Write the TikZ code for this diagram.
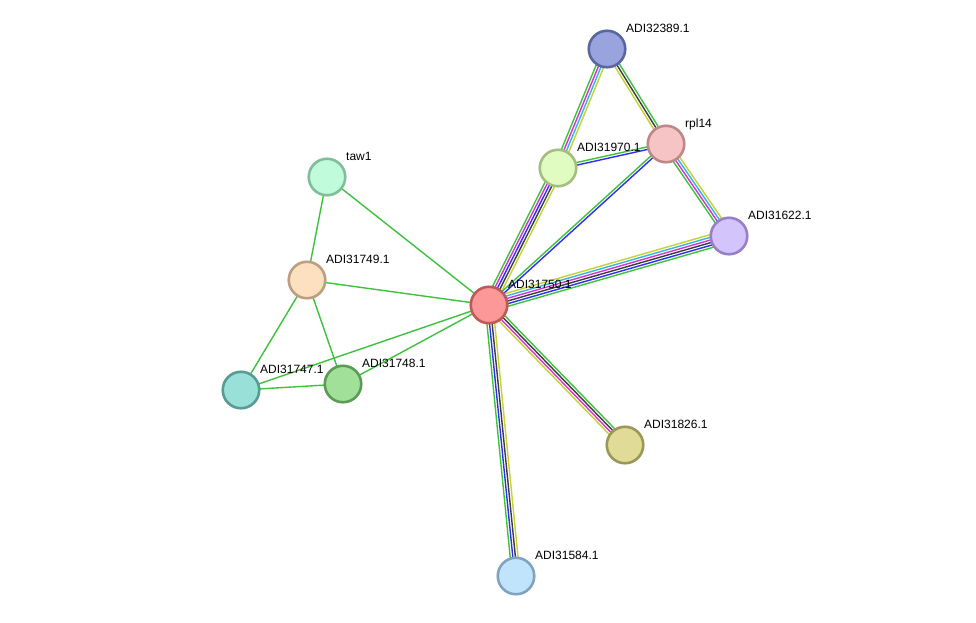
\documentclass[tikz,border=0pt]{standalone}
\usepackage{fontspec}
\setmainfont{Liberation Sans}
\usetikzlibrary{calc}
\definecolor{eg}{RGB}{61,194,61}
\definecolor{em}{RGB}{214,50,214}
\definecolor{eb}{RGB}{48,48,240}
\definecolor{ek}{RGB}{60,60,60}
\definecolor{ey}{RGB}{196,210,50}
\definecolor{ec}{RGB}{50,184,220}
\tikzset{
  edge/.style={line width=1.4pt},
  prot/.style={circle, minimum size=36.5pt, inner sep=0pt, line width=2.6pt},
  plabel/.style={anchor=base west, font=\fontsize{12}{14}\selectfont, inner sep=0pt, text=black}
}
\newcommand\medge[3]{%
  \foreach \c [count=\i] in {#3} {\xdef\nn{\i}}%
  \foreach \c [count=\i] in {#3} {%
    \pgfmathsetmacro\off{(\i-(\nn+1)/2)*2.6}%
    \draw[edge,\c] ($(#1)!\off pt!90:(#2)$) -- ($(#2)!\off pt!-90:(#1)$);
  }%
}
\begin{document}
\begin{tikzpicture}[x=1pt,y=-1pt]
\useasboundingbox[fill=white] (0,0) rectangle (976,622);
% coordinates of node centres
\coordinate (c32389) at (607,49);
\coordinate (crpl) at (666,144);
\coordinate (c31970) at (558,168);
\coordinate (c31622) at (729,236);
\coordinate (ctaw) at (327,177);
\coordinate (c31749) at (307,280);
\coordinate (c31750) at (489,305);
\coordinate (c31747) at (241,390);
\coordinate (c31748) at (343,384);
\coordinate (c31826) at (625,445);
\coordinate (c31584) at (516,576);
% edges
\medge{c31750}{c31970}{ey,ek,eb,em,eg}
\medge{c31970}{c32389}{ey,ec,em,eg}
\medge{c32389}{crpl}{ey,ek,eg}
\medge{c31970}{crpl}{eb,eg}
\medge{c31750}{crpl}{eb,eg}
\medge{crpl}{c31622}{eg,em,ec,ey}
\medge{c31750}{c31622}{eg,eb,ek,em,ec,ey}
\medge{c31750}{c31826}{ey,em,ek,eg}
\medge{c31750}{c31584}{eg,eb,ek,ey}
\medge{ctaw}{c31750}{eg}
\medge{ctaw}{c31749}{eg}
\medge{c31749}{c31750}{eg}
\medge{c31749}{c31747}{eg}
\medge{c31749}{c31748}{eg}
\medge{c31747}{c31748}{eg}
\medge{c31747}{c31750}{eg}
\medge{c31748}{c31750}{eg}
% nodes
\node[prot, fill={rgb,255:red,153;green,163;blue,222}, draw={rgb,255:red,90;green,102;blue,160}] (n32389) at (c32389) {};
\node[prot, fill={rgb,255:red,246;green,196;blue,196}, draw={rgb,255:red,190;green,136;blue,136}] (nrpl) at (crpl) {};
\node[prot, fill={rgb,255:red,224;green,252;blue,192}, draw={rgb,255:red,164;green,190;blue,128}] (n31970) at (c31970) {};
\node[prot, fill={rgb,255:red,212;green,196;blue,252}, draw={rgb,255:red,152;green,128;blue,200}] (n31622) at (c31622) {};
\node[prot, fill={rgb,255:red,192;green,252;blue,220}, draw={rgb,255:red,128;green,190;blue,152}] (ntaw) at (ctaw) {};
\node[prot, fill={rgb,255:red,253;green,224;blue,192}, draw={rgb,255:red,190;green,158;blue,128}] (n31749) at (c31749) {};
\node[prot, fill={rgb,255:red,252;green,152;blue,152}, draw={rgb,255:red,192;green,88;blue,88}] (n31750) at (c31750) {};
\node[prot, fill={rgb,255:red,152;green,224;blue,216}, draw={rgb,255:red,90;green,154;blue,148}] (n31747) at (c31747) {};
\node[prot, fill={rgb,255:red,160;green,224;blue,152}, draw={rgb,255:red,92;green,154;blue,88}] (n31748) at (c31748) {};
\node[prot, fill={rgb,255:red,224;green,220;blue,152}, draw={rgb,255:red,154;green,152;blue,88}] (n31826) at (c31826) {};
\node[prot, fill={rgb,255:red,192;green,228;blue,252}, draw={rgb,255:red,128;green,164;blue,192}] (n31584) at (c31584) {};
% labels
\node[plabel] (l32389) at ($(c32389)+(19,-17)$) {ADI32389.1};
\node[plabel] (lrpl) at ($(crpl)+(19,-17)$) {rpl14};
\node[plabel] (l31970) at ($(c31970)+(19,-17)$) {ADI31970.1};
\node[plabel] (l31622) at ($(c31622)+(19,-17)$) {ADI31622.1};
\node[plabel] (ltaw) at ($(ctaw)+(19,-17)$) {taw1};
\node[plabel] (l31749) at ($(c31749)+(19,-17)$) {ADI31749.1};
\node[plabel] (l31750) at ($(c31750)+(19,-17)$) {ADI31750.1};
\node[plabel] (l31747) at ($(c31747)+(19,-17)$) {ADI31747.1};
\node[plabel] (l31748) at ($(c31748)+(19,-17)$) {ADI31748.1};
\node[plabel] (l31826) at ($(c31826)+(19,-17)$) {ADI31826.1};
\node[plabel] (l31584) at ($(c31584)+(19,-17)$) {ADI31584.1};
\end{tikzpicture}
\end{document}
